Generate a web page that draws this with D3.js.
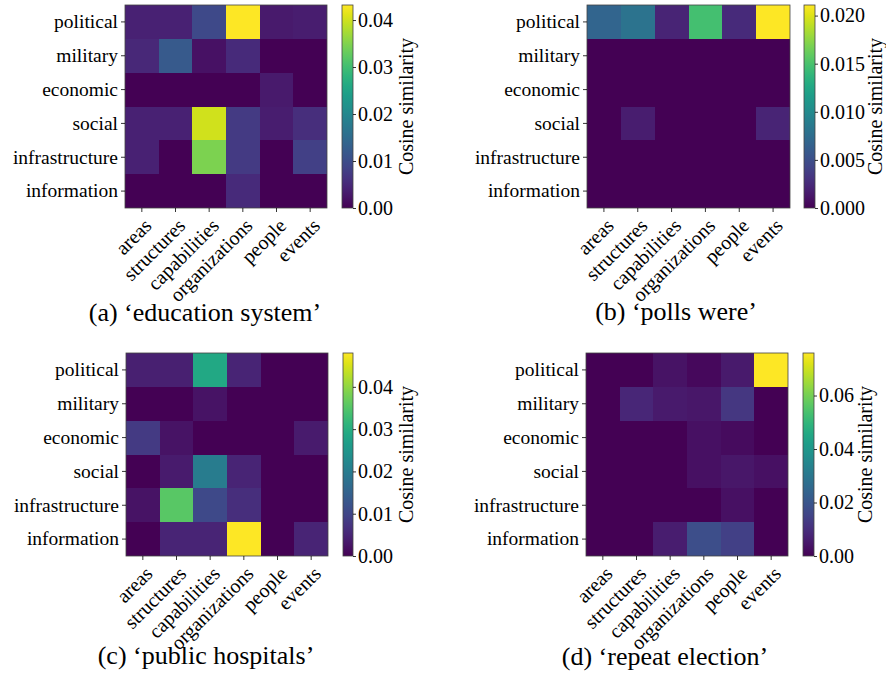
<!DOCTYPE html>
<html>
<head>
<meta charset="utf-8">
<script src="https://cdn.jsdelivr.net/npm/d3@7"></script>
<style>
  body { margin: 0; background: #fff; }
  svg text { font-family: "Liberation Serif", "Times New Roman", serif; fill: #000; }
</style>
</head>
<body>
<svg id="fig" width="886" height="679"></svg>
<script>
const rows = ["political", "military", "economic", "social", "infrastructure", "information"];
const cols = ["areas", "structures", "capabilities", "organizations", "people", "events"];

// cosine similarity, rows x cols
const valsA = [
    [0.0040, 0.0040, 0.0095, 0.0432, 0.0030, 0.0035],
    [0.0048, 0.0120, 0.0020, 0.0052, 0.0000, 0.0000],
    [0.0000, 0.0000, 0.0000, 0.0000, 0.0030, 0.0000],
    [0.0040, 0.0040, 0.0400, 0.0073, 0.0035, 0.0056],
    [0.0040, 0.0000, 0.0346, 0.0073, 0.0000, 0.0082],
    [0.0000, 0.0000, 0.0000, 0.0052, 0.0000, 0.0000]
];
const valsB = [
    [0.0068, 0.0080, 0.0021, 0.0148, 0.0025, 0.0211],
    [0.0000, 0.0000, 0.0000, 0.0000, 0.0000, 0.0000],
    [0.0000, 0.0000, 0.0000, 0.0000, 0.0000, 0.0000],
    [0.0000, 0.0017, 0.0000, 0.0000, 0.0000, 0.0021],
    [0.0000, 0.0000, 0.0000, 0.0000, 0.0000, 0.0000],
    [0.0000, 0.0000, 0.0000, 0.0000, 0.0000, 0.0000]
];
const valsC = [
    [0.0043, 0.0043, 0.0288, 0.0048, 0.0000, 0.0000],
    [0.0000, 0.0000, 0.0024, 0.0000, 0.0000, 0.0000],
    [0.0082, 0.0024, 0.0000, 0.0000, 0.0000, 0.0034],
    [0.0000, 0.0034, 0.0200, 0.0048, 0.0000, 0.0000],
    [0.0024, 0.0355, 0.0106, 0.0062, 0.0000, 0.0000],
    [0.0000, 0.0048, 0.0048, 0.0480, 0.0000, 0.0048]
];
const valsD = [
    [0.0000, 0.0000, 0.0038, 0.0015, 0.0053, 0.0759],
    [0.0000, 0.0083, 0.0053, 0.0046, 0.0120, 0.0000],
    [0.0000, 0.0000, 0.0000, 0.0030, 0.0023, 0.0000],
    [0.0000, 0.0000, 0.0000, 0.0030, 0.0046, 0.0030],
    [0.0000, 0.0000, 0.0000, 0.0000, 0.0030, 0.0000],
    [0.0000, 0.0000, 0.0060, 0.0180, 0.0144, 0.0000]
];

const ticksA = [0, 0.01, 0.02, 0.03, 0.04];
const ticksB = [0, 0.005, 0.010, 0.015, 0.020];
const ticksC = [0, 0.01, 0.02, 0.03, 0.04];
const ticksD = [0, 0.02, 0.04, 0.06];

const captions = ["(a) \u2018education system\u2019", "(b) \u2018polls were\u2019",
                  "(c) \u2018public hospitals\u2019", "(d) \u2018repeat election\u2019"];

const svg = d3.select("#fig");

function heatmap(vals, ticks, fmt, caption, L) {
    const g = svg.append("g");
    const vmax = d3.max(vals.flat());
    const color = d3.scaleSequential(d3.interpolateViridis).domain([0, vmax]);

    const x = d3.scaleBand().domain(cols).range([L.x0, L.x1]);
    const y = d3.scaleBand().domain(rows).range([L.y0, L.y1]);

    const cells = [];
    vals.forEach((r, i) => r.forEach((v, j) => cells.push({ row: rows[i], col: cols[j], v })));

    g.selectAll("rect.cell")
        .data(cells)
        .join("rect")
        .attr("class", "cell")
        .attr("x", d => Math.round(x(d.col)))
        .attr("y", d => Math.round(y(d.row)))
        .attr("width", d => Math.round(x(d.col) + x.bandwidth()) - Math.round(x(d.col)))
        .attr("height", d => Math.round(y(d.row) + y.bandwidth()) - Math.round(y(d.row)))
        .attr("shape-rendering", "crispEdges")
        .attr("fill", d => color(d.v));

    g.append("rect")
        .attr("x", L.x0).attr("y", L.y0)
        .attr("width", L.x1 - L.x0).attr("height", L.y1 - L.y0)
        .attr("fill", "none").attr("stroke", "#444").attr("stroke-width", 0.8);

    // y axis
    const yAxis = g.append("g")
        .attr("transform", `translate(${L.x0},0)`)
        .call(d3.axisLeft(y).tickSize(4).tickPadding(3));
    yAxis.select(".domain").remove();
    yAxis.selectAll("text").style("font-size", "19.5px").attr("font-family", null);
    yAxis.selectAll("line").attr("stroke", "#000").attr("stroke-width", 0.8);

    // x axis, rotated labels
    const xAxis = g.append("g")
        .attr("transform", `translate(0,${L.y1})`)
        .call(d3.axisBottom(x).tickSize(4));
    xAxis.select(".domain").remove();
    xAxis.selectAll("line").attr("stroke", "#000").attr("stroke-width", 0.8);
    xAxis.selectAll("text")
        .attr("font-family", null)
        .style("font-size", "20px")
        .attr("text-anchor", "end")
        .attr("y", 0).attr("dy", 0)
        .attr("transform", "translate(11,19) rotate(-45)");

    // colorbar
    const cb = d3.scaleLinear().domain([0, vmax]).range([L.y1, L.y0]);
    const gradId = "grad" + L.id;
    const grad = svg.append("defs").append("linearGradient")
        .attr("id", gradId).attr("x1", 0).attr("y1", 1).attr("x2", 0).attr("y2", 0);
    d3.range(0, 1.001, 0.05).forEach(t => {
        grad.append("stop").attr("offset", t).attr("stop-color", d3.interpolateViridis(t));
    });
    g.append("rect")
        .attr("x", L.cx).attr("y", L.y0)
        .attr("width", L.cw).attr("height", L.y1 - L.y0)
        .attr("fill", `url(#${gradId})`)
        .attr("stroke", "#444").attr("stroke-width", 0.8);

    const cAxis = g.append("g")
        .attr("transform", `translate(${L.cx + L.cw},0)`)
        .call(d3.axisRight(cb).tickValues(ticks).tickFormat(d3.format(fmt)).tickSize(3).tickPadding(2));
    cAxis.select(".domain").remove();
    cAxis.selectAll("line").attr("stroke", "#000").attr("stroke-width", 0.8);
    cAxis.selectAll("text").attr("font-family", null).style("font-size", "20px");

    g.append("text")
        .attr("transform", `translate(${L.lx},${(L.y0 + L.y1) / 2}) rotate(-90)`)
        .attr("text-anchor", "middle")
        .style("font-size", "20px")
        .text("Cosine similarity");

    // caption
    g.append("text")
        .attr("x", L.capx).attr("y", L.capy)
        .attr("text-anchor", "middle")
        .style("font-size", "26px")
        .text(caption);
}

heatmap(valsA, ticksA, ".2f", captions[0],
    { id: "a", x0: 125, x1: 327, y0: 5, y1: 208, cx: 342, cw: 11, lx: 413, capx: 205, capy: 321 });
heatmap(valsB, ticksB, ".3f", captions[1],
    { id: "b", x0: 587, x1: 790, y0: 5, y1: 208, cx: 804, cw: 11, lx: 882, capx: 676, capy: 320 });
heatmap(valsC, ticksC, ".2f", captions[2],
    { id: "c", x0: 126, x1: 328, y0: 353, y1: 556, cx: 343, cw: 10, lx: 413, capx: 206, capy: 664 });
heatmap(valsD, ticksD, ".2f", captions[3],
    { id: "d", x0: 586, x1: 788, y0: 353, y1: 556, cx: 803, cw: 11, lx: 872, capx: 665, capy: 665 });
</script>
</body>
</html>
